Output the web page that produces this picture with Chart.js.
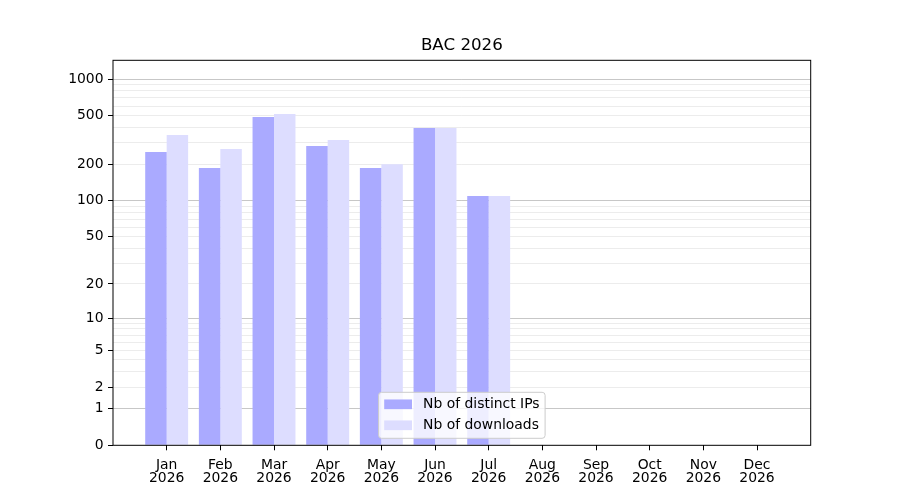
<!DOCTYPE html>
<html lang="en">
<head>
    <meta charset="UTF-8">
    <title>BAC 2026</title>
    <script src="https://cdn.jsdelivr.net/npm/chart.js@4.4.1/dist/chart.umd.min.js"></script>
    <style>
        body { margin: 0; background: #fff; }
        #wrap { width: 900px; height: 500px; }
    </style>
</head>
<body>
    <div id="wrap"><canvas id="chartBac"></canvas></div>

    <script>
        // Data
        const monthLabels = ['Jan', 'Feb', 'Mar', 'Apr', 'May', 'Jun', 'Jul', 'Aug', 'Sep', 'Oct', 'Nov', 'Dec'];
        const yearLabel = '2026';
        const distinctIPs = [252, 186, 488, 282, 186, 396, 109];
        const downloads = [347, 266, 516, 316, 200, 396, 109];

        // y ticks: labelled ones, decades (darker grid) and every other minor step
        const yLabelled = [0, 1, 2, 5, 10, 20, 50, 100, 200, 500, 1000];
        const yMajor = [1, 10, 100, 1000];
        const yAllTicks = [0, 1, 2, 3, 4, 5, 6, 7, 8, 9, 10, 20, 30, 40, 50, 60, 70, 80, 90,
                           100, 200, 300, 400, 500, 600, 700, 800, 900, 1000];
        const yMax = 1424;

        // scale y = log10(1 + v), like the original axis
        const fwd = v => Math.log10(1 + v);
        const inv = t => Math.pow(10, t) - 1;
        class Log1pScale extends Chart.LinearScale {
            getPixelForValue(value) {
                if (value === null || value === undefined || isNaN(value)) return NaN;
                const t0 = fwd(this.min), t1 = fwd(this.max);
                return this.getPixelForDecimal((fwd(value) - t0) / (t1 - t0));
            }
            getValueForPixel(pixel) {
                const t0 = fwd(this.min), t1 = fwd(this.max);
                return inv(t0 + this.getDecimalForPixel(pixel) * (t1 - t0));
            }
        }
        Log1pScale.id = 'log1p';
        Log1pScale.defaults = {};
        Chart.register(Log1pScale);

        Chart.defaults.font.family = '"DejaVu Sans", sans-serif';
        Chart.defaults.font.size = 13.9;
        Chart.defaults.color = '#000';

        // frame around the plot + legend in the lower centre
        const frameAndLegend = {
            id: 'frameAndLegend',
            afterDraw(chart) {
                const { ctx, chartArea: a } = chart;
                ctx.save();
                ctx.strokeStyle = '#000';
                ctx.lineWidth = 1;
                ctx.strokeRect(a.left, a.top, a.right - a.left, a.bottom - a.top);

                const fs = 13.9;
                ctx.font = fs + 'px "DejaVu Sans"';
                const sets = chart.data.datasets;
                const textW = Math.max(...sets.map(d => ctx.measureText(d.label).width));
                const pad = 5.6, swW = 27.8, swH = 9.7, gap = 11.1, rowH = 21;
                const w = pad + swW + gap + textW + pad;
                const h = 46;
                const x0 = (a.left + a.right) / 2 - w / 2;
                const y0 = a.bottom - 7 - h;

                ctx.beginPath();
                ctx.roundRect(x0, y0, w, h, 3);
                ctx.fillStyle = 'rgba(255,255,255,0.8)';
                ctx.fill();
                ctx.strokeStyle = '#cccccc';
                ctx.stroke();

                sets.forEach((d, i) => {
                    const cy = y0 + 12 + i * rowH;
                    ctx.fillStyle = d.backgroundColor;
                    ctx.fillRect(x0 + pad, cy - swH / 2, swW, swH);
                    ctx.fillStyle = '#000';
                    ctx.textBaseline = 'middle';
                    ctx.textAlign = 'left';
                    ctx.fillText(d.label, x0 + pad + swW + gap, cy);
                });
                ctx.restore();
            }
        };

        new Chart(document.getElementById('chartBac'), {
            type: 'bar',
            data: {
                datasets: [
                    {
                        label: 'Nb of distinct IPs',
                        data: distinctIPs.map((v, i) => ({ x: i, y: v })),
                        backgroundColor: '#aaaaff',
                        borderWidth: 0,
                        categoryPercentage: 0.8,
                        barPercentage: 1.0
                    },
                    {
                        label: 'Nb of downloads',
                        data: downloads.map((v, i) => ({ x: i, y: v })),
                        backgroundColor: '#ddddff',
                        borderWidth: 0,
                        categoryPercentage: 0.8,
                        barPercentage: 1.0
                    }
                ]
            },
            options: {
                responsive: true,
                maintainAspectRatio: false,
                animation: false,
                layout: { padding: { left: 13.1, right: 89.3, top: 0, bottom: 0 } },
                plugins: {
                    legend: { display: false },
                    tooltip: { enabled: false },
                    title: {
                        display: true,
                        fullSize: false,
                        text: 'BAC 2026',
                        color: '#000',
                        font: { size: 16.67, weight: 'normal', lineHeight: 1.2 },
                        padding: { top: 35.5, bottom: 4.8 }
                    }
                },
                scales: {
                    x: {
                        type: 'linear',
                        min: -1,
                        max: 12,
                        offset: false,
                        afterBuildTicks: s => { s.ticks = monthLabels.map((_, i) => ({ value: i })); },
                        afterFit: s => { s.height = 54.7; },
                        ticks: {
                            autoSkip: false,
                            maxRotation: 0,
                            padding: 8,
                            font: { lineHeight: 0.95 },
                            callback: v => [monthLabels[v], yearLabel]
                        },
                        grid: {
                            offset: false,
                            drawOnChartArea: false,
                            drawTicks: true,
                            tickLength: 5,
                            tickColor: '#000'
                        },
                        border: { display: false }
                    },
                    y: {
                        type: 'log1p',
                        min: 0,
                        max: yMax,
                        z: 1,
                        afterBuildTicks: s => { s.ticks = yAllTicks.map(v => ({ value: v })); },
                        afterFit: s => { s.width = 99.9; },
                        ticks: {
                            autoSkip: false,
                            padding: 4.5,
                            callback: v => yLabelled.includes(v) ? String(v) : ''
                        },
                        grid: {
                            drawTicks: true,
                            tickLength: 5,
                            lineWidth: 1,
                            color: c => c.tick.value === 0 ? 'rgba(0,0,0,0)'
                                : yMajor.includes(c.tick.value) ? 'rgba(0,0,0,0.22)' : 'rgba(0,0,0,0.075)',
                            tickColor: c => yLabelled.includes(c.tick.value) ? '#000' : 'rgba(0,0,0,0)'
                        },
                        border: { display: false }
                    }
                }
            },
            plugins: [frameAndLegend]
        });
    </script>
</body>
</html>
